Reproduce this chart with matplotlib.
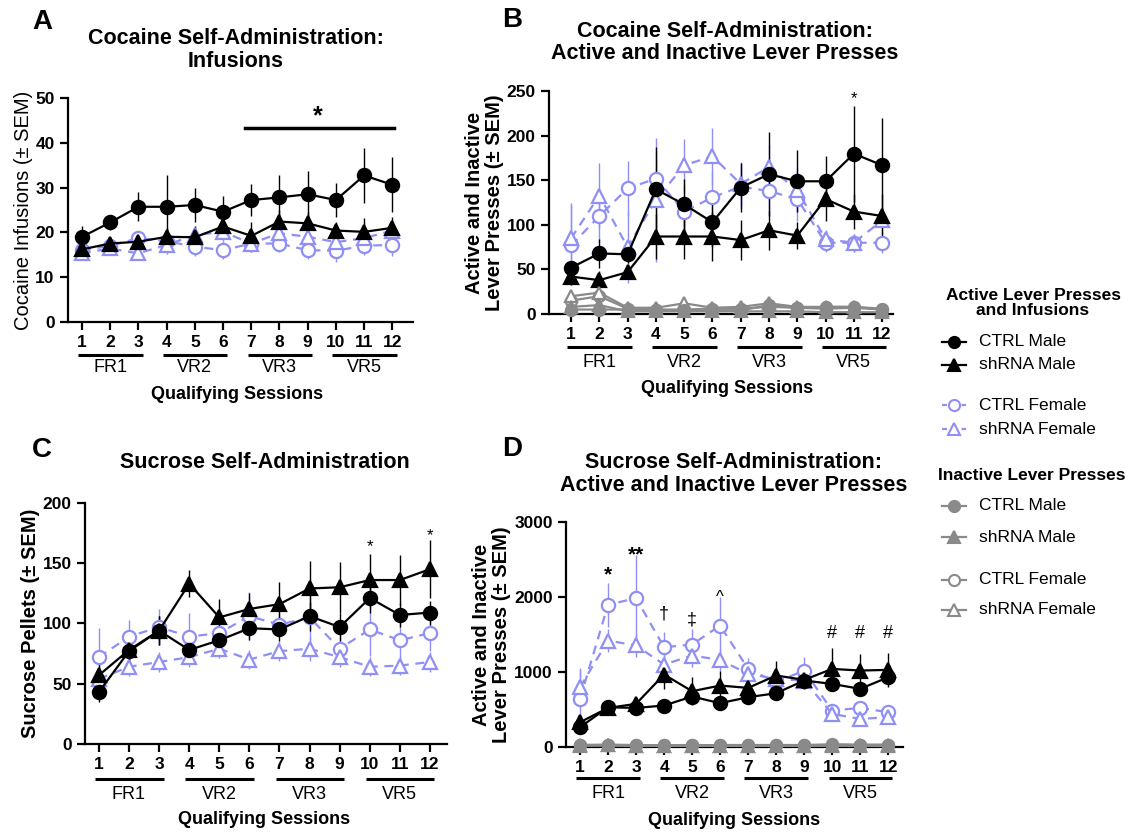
import matplotlib
matplotlib.use("Agg")
import matplotlib.pyplot as plt
import matplotlib.transforms as mtransforms
from matplotlib.lines import Line2D

plt.rcParams['font.family'] = ['Liberation Sans', 'DejaVu Sans']

sessions = list(range(1, 13))
groups = [(1, 3, "FR1"), (4, 6, "VR2"), (7, 9, "VR3"), (10, 12, "VR5")]

BLACK = "black"
BLUE = "#8f8ff5"
GRAY = "#8a8a8a"

# Panel A: cocaine infusions
a_ctrl_m = [19.0, 22.2, 25.7, 25.7, 26.1, 24.6, 27.2, 27.8, 28.5, 27.2, 32.7, 30.6]
a_ctrl_m_sem = [2.3, 1.7, 3.2, 7.0, 3.9, 3.4, 3.5, 4.9, 5.1, 3.8, 6.1, 6.1]
a_sh_m = [16.2, 17.5, 17.9, 19.0, 18.9, 21.3, 19.2, 22.4, 22.0, 20.4, 20.1, 21.0]
a_sh_m_sem = [1.5, 1.5, 1.5, 2.0, 2.5, 2.0, 3.0, 2.5, 2.5, 2.0, 3.0, 2.5]
a_ctrl_f = [16.0, 17.0, 18.7, 18.0, 16.8, 16.0, 17.5, 17.5, 16.0, 15.9, 17.0, 17.2]
a_ctrl_f_sem = [1.5, 1.5, 1.5, 2.0, 2.0, 2.0, 2.0, 2.0, 2.0, 2.5, 2.0, 2.5]
a_sh_f = [15.3, 16.4, 15.3, 17.2, 19.4, 20.1, 17.5, 19.8, 19.0, 17.8, 18.7, 20.4]
a_sh_f_sem = [1.5, 1.5, 1.5, 2.0, 2.0, 2.0, 2.0, 2.0, 2.0, 2.0, 2.0, 2.0]

# Panel B: cocaine lever presses
b_ctrl_m = [52, 68, 67, 140, 123, 103, 142, 157, 149, 149, 180, 167]
b_ctrl_m_sem = [8, 16, 10, 47, 29, 28, 27, 47, 35, 28, 54, 53]
b_sh_m = [42, 38, 47, 87, 87, 87, 83, 94, 88, 129, 115, 110]
b_sh_m_sem = [10, 10, 8, 25, 25, 27, 22, 22, 15, 25, 20, 25]
b_ctrl_f = [77, 110, 141, 152, 115, 131, 143, 138, 129, 80, 80, 80]
b_ctrl_f_sem = [45, 30, 31, 30, 30, 30, 25, 25, 25, 10, 10, 12]
b_sh_f = [85, 133, 75, 128, 167, 177, 146, 165, 139, 84, 80, 105]
b_sh_f_sem = [40, 37, 40, 70, 30, 32, 25, 25, 25, 10, 10, 15]
b_in_ctrl_m = [5, 5, 5, 4, 4, 4, 4, 10, 7, 6, 7, 5]
b_in_sh_m = [8, 10, 3, 3, 3, 3, 3, 3, 3, 2, 2, 2]
b_in_ctrl_f = [15, 20, 6, 5, 5, 6, 6, 8, 7, 8, 8, 6]
b_in_sh_f = [20, 24, 7, 7, 12, 7, 8, 12, 8, 8, 8, 5]
b_in_sem = [3] * 12

# Panel C: sucrose pellets
c_ctrl_m = [43, 77, 94, 78, 86, 96, 95, 106, 97, 121, 107, 109]
c_ctrl_m_sem = [8, 10, 12, 8, 8, 10, 10, 12, 12, 12, 10, 10]
c_sh_m = [57, 78, 94, 133, 105, 112, 116, 129, 130, 136, 136, 145]
c_sh_m_sem = [20, 12, 12, 11, 15, 13, 18, 23, 21, 22, 21, 24]
c_ctrl_f = [72, 89, 97, 89, 92, 106, 99, 105, 79, 95, 86, 92]
c_ctrl_f_sem = [24, 14, 15, 20, 15, 20, 10, 20, 12, 22, 15, 15]
c_sh_f = [54, 64, 68, 72, 79, 70, 77, 79, 72, 64, 65, 68]
c_sh_f_sem = [8, 8, 8, 8, 8, 8, 8, 10, 8, 8, 8, 8]

# Panel D: sucrose lever presses
d_ctrl_m = [267, 533, 524, 556, 676, 587, 667, 720, 889, 844, 778, 933]
d_ctrl_m_sem = [60, 60, 60, 60, 100, 60, 60, 60, 80, 60, 60, 100]
d_sh_m = [333, 524, 578, 969, 747, 822, 791, 956, 898, 1044, 1022, 1031]
d_sh_m_sem = [80, 80, 80, 190, 186, 200, 100, 190, 120, 276, 222, 222]
d_ctrl_f = [644, 1898, 1987, 1333, 1369, 1622, 1044, 867, 1022, 489, 524, 467]
d_ctrl_f_sem = [390, 290, 570, 200, 200, 380, 150, 200, 180, 80, 80, 80]
d_sh_f = [800, 1422, 1356, 1102, 1222, 1164, 978, 911, 889, 444, 378, 400]
d_sh_f_sem = [250, 150, 150, 150, 150, 150, 100, 100, 100, 60, 60, 60]
d_in_ctrl_m = [30, 35, 30, 25, 25, 30, 30, 30, 30, 40, 35, 35]
d_in_sh_m = [20, 25, 20, 20, 20, 20, 20, 20, 20, 25, 25, 25]
d_in_ctrl_f = [30, 30, 25, 25, 25, 25, 25, 25, 25, 30, 30, 30]
d_in_sh_f = [25, 25, 20, 20, 20, 20, 20, 20, 20, 20, 20, 15]
d_in_sem = [10] * 12

fig = plt.figure(figsize=(11.32, 8.34), dpi=100)


def series(ax, y, err, color, marker, filled, dashed, ms=9.5):
    ax.errorbar(sessions, y, yerr=err, color=color, lw=1.6,
                ls=(0, (4, 3)) if dashed else '-',
                marker=marker, ms=ms,
                mfc=color if filled else 'white', mec=color, mew=1.6,
                elinewidth=1.0, capsize=0, clip_on=False, zorder=3)


def style(ax, ylim, yticks, xlim, ylabel, ylab_bold, offs):
    ax.set_xlim(*xlim)
    ax.set_ylim(*ylim)
    ax.set_yticks(yticks)
    ax.set_xticks(sessions)
    for s in ['top', 'right']:
        ax.spines[s].set_visible(False)
    for s in ['left', 'bottom']:
        ax.spines[s].set_linewidth(1.6)
    ax.tick_params(width=1.6, length=6, labelsize=12.5)
    for lab in ax.get_xticklabels() + ax.get_yticklabels():
        lab.set_fontweight('bold')
    ax.set_ylabel(ylabel, fontsize=14.5, fontweight='bold' if ylab_bold else 'normal',
                  linespacing=1.08, labelpad=2)
    bar_off, lab_off, xl_off = offs
    trans = mtransforms.blended_transform_factory(ax.transData, ax.transAxes)
    for g0, g1, name in groups:
        t = trans + mtransforms.ScaledTranslation(0, -bar_off / 100, fig.dpi_scale_trans)
        ax.plot([g0 - 0.13, g1 + 0.15], [0, 0], color='black', lw=2.2,
                transform=t, clip_on=False, solid_capstyle='butt')
        ax.annotate(name, xy=((g0 + g1) / 2, 0), xycoords=trans,
                    xytext=(0, -lab_off * 0.72), textcoords='offset points',
                    ha='center', va='center', fontsize=13)
    ax.annotate("Qualifying Sessions", xy=(6.5, 0), xycoords=trans,
                xytext=(0, -xl_off * 0.72), textcoords='offset points',
                ha='center', va='center', fontsize=13, fontweight='bold')


# ---- A ----
axA = fig.add_axes([0.060, 0.614, 0.305, 0.2686])
series(axA, a_ctrl_f, a_ctrl_f_sem, BLUE, 'o', False, True)
series(axA, a_sh_f, a_sh_f_sem, BLUE, '^', False, True)
series(axA, a_sh_m, a_sh_m_sem, BLACK, '^', True, False)
series(axA, a_ctrl_m, a_ctrl_m_sem, BLACK, 'o', True, False)
style(axA, (0, 50), range(0, 51, 10), (0.5, 12.74), "Cocaine Infusions (± SEM)", False, (33, 46, 73))
axA.plot([6.78, 12.06], [43.3, 43.3], color='black', lw=2.5, clip_on=False)
axA.text(9.37, 45.8, "*", ha='center', va='center', fontsize=18, fontweight='bold')

# ---- B ----
axB = fig.add_axes([0.485, 0.6235, 0.304, 0.267])
series(axB, b_ctrl_f, b_ctrl_f_sem, BLUE, 'o', False, True)
series(axB, b_sh_f, b_sh_f_sem, BLUE, '^', False, True)
series(axB, b_sh_m, b_sh_m_sem, BLACK, '^', True, False)
series(axB, b_ctrl_m, b_ctrl_m_sem, BLACK, 'o', True, False)
series(axB, b_in_ctrl_f, b_in_sem, GRAY, 'o', False, False, ms=8)
series(axB, b_in_sh_f, b_in_sem, GRAY, '^', False, False, ms=8)
series(axB, b_in_ctrl_m, b_in_sem, GRAY, 'o', True, False, ms=8)
series(axB, b_in_sh_m, b_in_sem, GRAY, '^', True, False, ms=8)
style(axB, (0, 250), range(0, 251, 50), (0.22, 12.39),
      "Active and Inactive\nLever Presses (± SEM)", True, (33, 48, 74))
axB.text(11, 242, "*", ha='center', va='center', fontsize=12)

# ---- C ----
axC = fig.add_axes([0.075, 0.108, 0.320, 0.289])
series(axC, c_ctrl_f, c_ctrl_f_sem, BLUE, 'o', False, True)
series(axC, c_sh_f, c_sh_f_sem, BLUE, '^', False, True)
series(axC, c_sh_m, c_sh_m_sem, BLACK, '^', True, False)
series(axC, c_ctrl_m, c_ctrl_m_sem, BLACK, 'o', True, False)
style(axC, (0, 200), range(0, 201, 50), (0.535, 12.57), "Sucrose Pellets (± SEM)", True, (35, 51, 76))
axC.text(10, 164, "*", ha='center', va='center', fontsize=12)
axC.text(12, 173, "*", ha='center', va='center', fontsize=12)

# ---- D ----
axD = fig.add_axes([0.500, 0.104, 0.298, 0.270])
series(axD, d_ctrl_f, d_ctrl_f_sem, BLUE, 'o', False, True)
series(axD, d_sh_f, d_sh_f_sem, BLUE, '^', False, True)
series(axD, d_sh_m, d_sh_m_sem, BLACK, '^', True, False)
series(axD, d_ctrl_m, d_ctrl_m_sem, BLACK, 'o', True, False)
series(axD, d_in_ctrl_f, d_in_sem, GRAY, 'o', False, False, ms=8)
series(axD, d_in_sh_f, d_in_sem, GRAY, '^', False, False, ms=8)
series(axD, d_in_ctrl_m, d_in_sem, GRAY, 'o', True, False, ms=8)
series(axD, d_in_sh_m, d_in_sem, GRAY, '^', True, False, ms=8)
style(axD, (0, 3000), range(0, 3001, 1000), (0.5, 12.54),
      "Active and Inactive\nLever Presses (± SEM)", True, (31, 46, 73))
d_marks = [(2, 2290, "*", 15), (3, 2560, "**", 15), (4, 1780, "†", 13), (5, 1690, "‡", 13),
           (6, 2000, "^", 12), (10, 1520, "#", 13), (11, 1520, "#", 13), (12, 1520, "#", 13)]
for x, y, s, fs in d_marks:
    axD.text(x, y, s, ha='center', va='center', fontsize=fs,
             fontweight='bold' if s.startswith('*') else 'normal')

# titles and panel letters
title_kw = dict(ha='center', va='center', fontsize=15.5, fontweight='bold', linespacing=1.12)
fig.text(0.2085, 0.940, "Cocaine Self-Administration:\nInfusions", **title_kw)
fig.text(0.640, 0.949, "Cocaine Self-Administration:\nActive and Inactive Lever Presses", **title_kw)
fig.text(0.234, 0.445, "Sucrose Self-Administration", **title_kw)
fig.text(0.648, 0.432, "Sucrose Self-Administration:\nActive and Inactive Lever Presses", **title_kw)
for x, y, s in [(0.037, 0.974, "A"), (0.452, 0.976, "B"), (0.037, 0.460, "C"), (0.452, 0.462, "D")]:
    fig.text(x, y, s, ha='center', va='center', fontsize=20, fontweight='bold')

# legend (drawn by hand, figure pixel rows from the top)
W, H = 1132, 834
fig.text(1033 / W, 1 - 303 / H, "Active Lever Presses\nand Infusions", ha='center', va='center',
         fontsize=12.5, fontweight='bold', linespacing=1.05)
fig.text(1032 / W, 1 - 476 / H, "Inactive Lever Presses", ha='center', va='center',
         fontsize=12.5, fontweight='bold')
legend_rows = [
    (342, "CTRL Male", BLACK, 'o', True, False),
    (365, "shRNA Male", BLACK, '^', True, False),
    (405, "CTRL Female", BLUE, 'o', False, True),
    (429, "shRNA Female", BLUE, '^', False, True),
    (506, "CTRL Male", GRAY, 'o', True, False),
    (537, "shRNA Male", GRAY, '^', True, False),
    (580, "CTRL Female", GRAY, 'o', False, False),
    (610, "shRNA Female", GRAY, '^', False, False),
]
for row, label, color, marker, filled, dashed in legend_rows:
    y = 1 - row / H
    fig.add_artist(Line2D([942 / W, 966 / W], [y, y], transform=fig.transFigure, color=color,
                          lw=1.6, ls=(0, (2.2, 2.2)) if dashed else '-'))
    fig.add_artist(Line2D([954 / W], [y], transform=fig.transFigure, color=color, marker=marker,
                          ms=8, mfc=color if filled else 'white', mec=color, mew=1.5))
    fig.text(979 / W, y, label, ha='left', va='center', fontsize=12.5)

fig.savefig("out.png", dpi=100)
